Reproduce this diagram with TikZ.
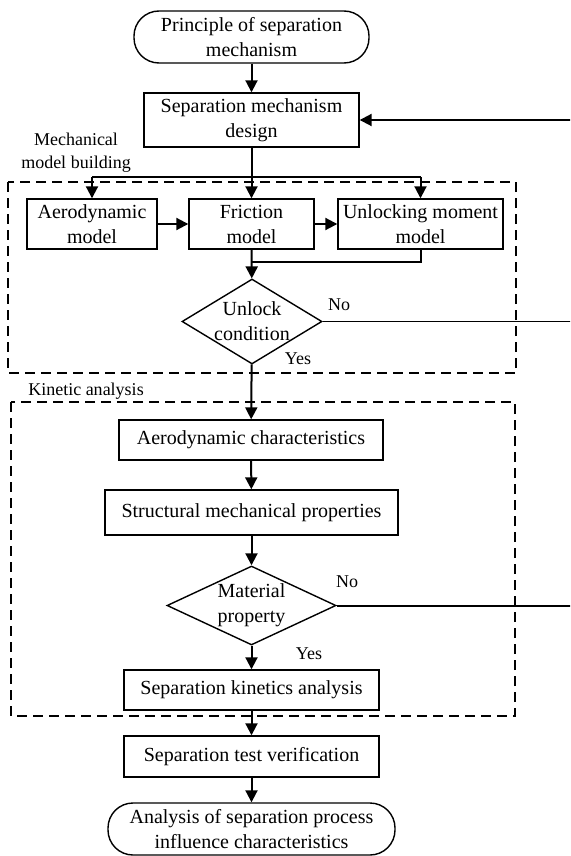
\documentclass[tikz,border=0pt]{standalone}
\usepackage{fontspec}
\setmainfont{Liberation Serif}
\usetikzlibrary{arrows.meta,shapes.geometric}
\tikzset{
  every node/.style={font=\fontsize{10}{12.5}\selectfont,align=center,inner sep=1pt},
  box/.style={draw,line width=0.7pt,rectangle},
  term/.style={draw,line width=0.7pt,rectangle,rounded corners=12.5pt},
  dec/.style={draw,line width=0.7pt,diamond,inner sep=0pt},
  grp/.style={line width=0.7pt,dash pattern=on 5pt off 3pt},
  small/.style={font=\fontsize{9}{11.5}\selectfont},
  arr/.style={line width=1pt,-{Triangle[length=6pt,width=6pt]}},
  ln/.style={line width=1pt}
}
\begin{document}
\begin{tikzpicture}[x=0.5pt,y=-0.5pt]
\clip (0,0) rectangle (570,856);
\node[term,minimum width=117.5pt,minimum height=26pt] (start) at (251.5,37) {Principle of separation\\mechanism};
\node[box,minimum width=107.5pt,minimum height=27pt] (design) at (251.5,120) {Separation mechanism\\design};
\node[box,minimum width=65pt,minimum height=25pt] (aero) at (92,224) {Aerodynamic\\model};
\node[box,minimum width=62.5pt,minimum height=25pt] (fric) at (251.5,224) {Friction\\model};
\node[box,minimum width=82.5pt,minimum height=25pt] (umom) at (420.5,224) {Unlocking moment\\model};
\node[dec,minimum width=70pt,minimum height=42.5pt,
  label={[name=ucondtxt,align=center]center:Unlock\\condition}] (ucond) at (252,321.5) {};
\node[box,minimum width=132pt,minimum height=20pt] (aerochar) at (251,440) {Aerodynamic characteristics};
\node[box,minimum width=146.5pt,minimum height=22.5pt] (struct) at (251.5,512.5) {Structural mechanical properties};
\node[dec,minimum width=84.5pt,minimum height=39.5pt,
  label={[name=mattxt,align=center]center:Material\\property}] (mat) at (251.5,605.5) {};
\node[box,minimum width=127.5pt,minimum height=20pt] (kin) at (251.5,690) {Separation kinetics analysis};
\node[box,minimum width=127.5pt,minimum height=20.5pt] (test) at (251.5,756.5) {Separation test verification};
\node[term,minimum width=143.5pt,minimum height=26pt] (finish) at (251.5,829) {Analysis of separation process\\influence characteristics};

% groups
\draw[grp] (8,182) rectangle (516,373);
\draw[grp] (11,402) rectangle (515,716);
\node[small] (mechlbl) at (76,153) {Mechanical\\model building};
\node[small] (kinlbl) at (86,391) {Kinetic analysis};

\coordinate (split) at (251.5,177);
\coordinate (join) at (251.5,262);
\coordinate (fb) at (578,120);

\draw[arr] (start) -- (design);
\draw[arr] (design) -- (fric);
\draw[ln] (split -| aero) -- (split -| umom);
\draw[arr] (split -| aero) -- (aero);
\draw[arr] (split -| umom) -- (umom);
\draw[arr] (aero) -- (fric);
\draw[arr] (fric) -- (umom);
\draw[arr] (fric) -- (ucond);
\draw[ln] (umom.south) |- (join);
\draw[arr] (ucond) -- (aerochar);
\draw[line width=0.8pt] (ucond.east) -- (ucond.east -| fb);
\draw[arr] (aerochar) -- (struct);
\draw[arr] (struct) -- (mat);
\draw[arr] (mat) -- (kin);
\draw[arr] (kin) -- (test);
\draw[arr] (test) -- (finish);
\draw[arr] (mat.east) -| (fb) -- (design.east);

\node[small] (no1) at (339,305) {No};
\node[small] (yes1) at (298,359) {Yes};
\node[small] (no2) at (347,582) {No};
\node[small] (yes2) at (309,654) {Yes};
\end{tikzpicture}
\end{document}
